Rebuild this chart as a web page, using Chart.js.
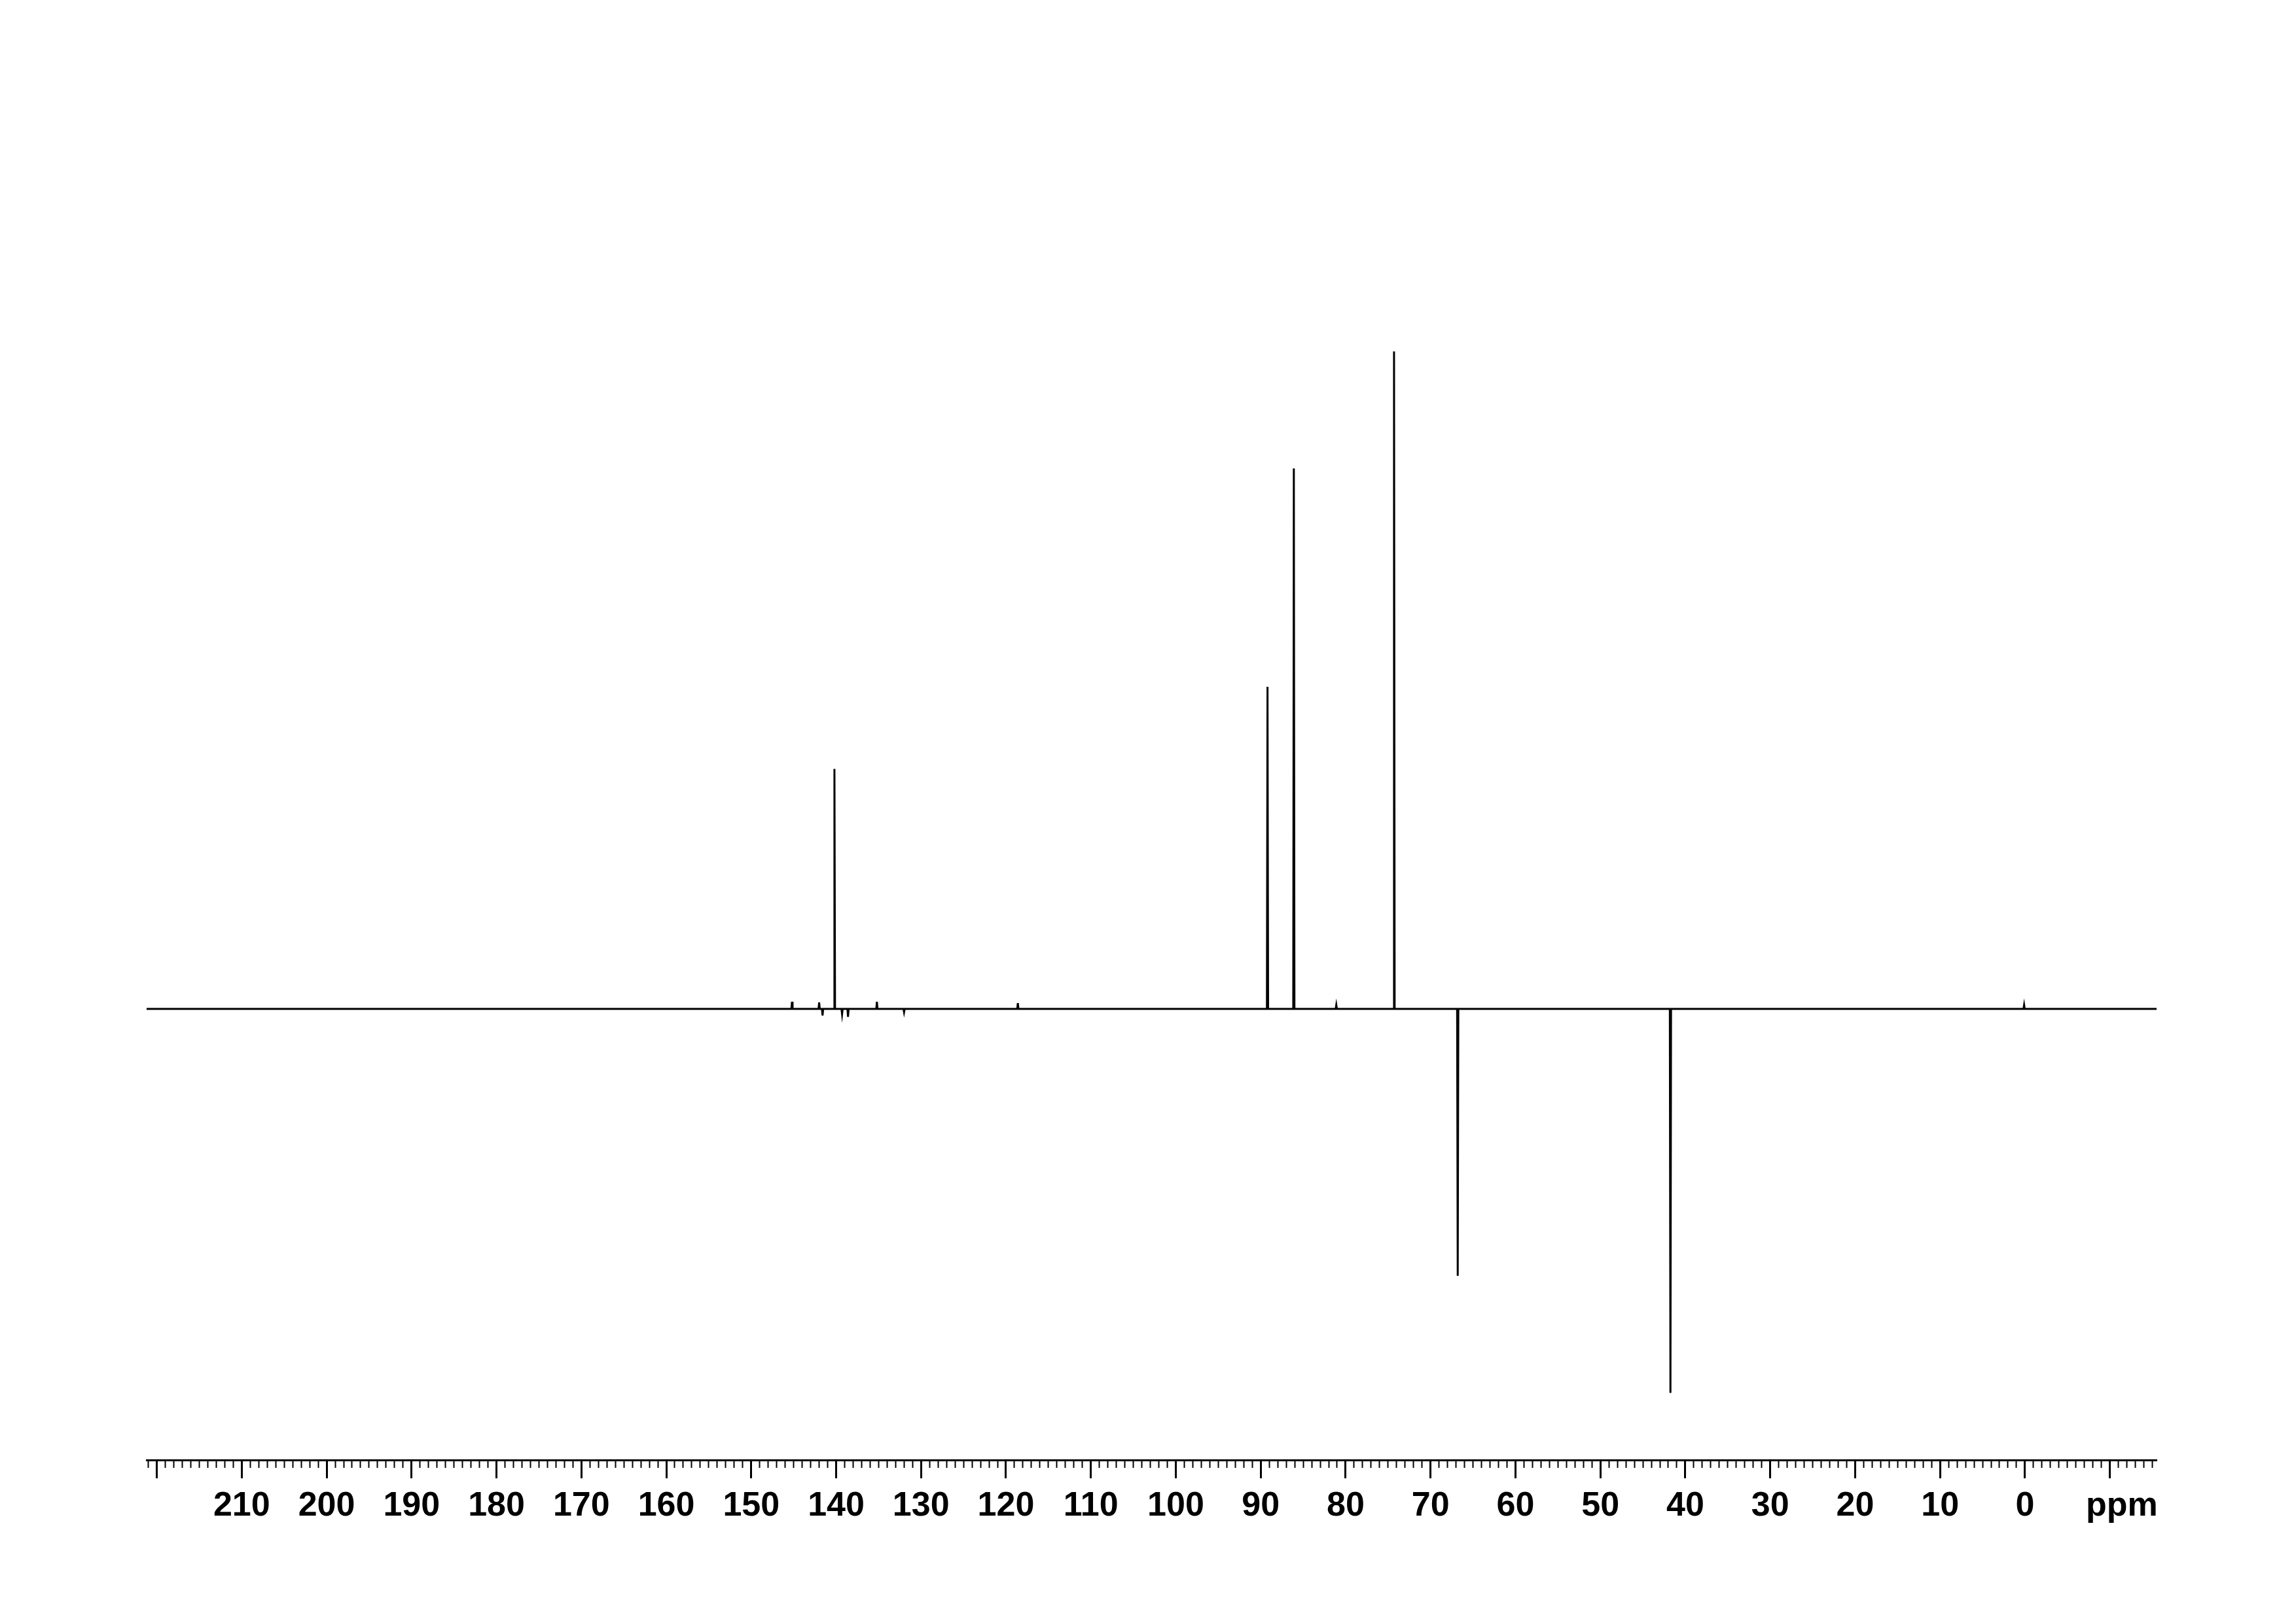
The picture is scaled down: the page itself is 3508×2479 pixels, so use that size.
<!DOCTYPE html>
<html>
<head>
<meta charset="utf-8">
<script src="https://cdn.jsdelivr.net/npm/chart.js@4/dist/chart.umd.min.js"></script>
<style>
  html, body { margin: 0; padding: 0; background: #ffffff; }
  #c { display: block; }
</style>
</head>
<body>
<canvas id="c" width="3508" height="2479"></canvas>
<script>
// ---- data ----
const ppmRange = [-15.5, 221.2];                 // visible chemical-shift window
const peakPpm = [145.2, 142.0, 141.6, 140.2, 139.3, 138.6, 135.2, 132.0, 118.6,
                 89.2, 86.1, 81.1, 74.3, 66.8, 41.75, 0.1];
const peakIntensity = [1.1, 1.0, -1.0, 36.5, -0.8, -1.2, 1.1, -0.5, 0.9,
                       49.0, 82.2, 0.6, 100, -40.6, -58.4, 0.6];
const intensityRange = [-68.6, 143.5];
const majorTickLabels = [210, 200, 190, 180, 170, 160, 150, 140, 130, 120, 110, 100,
                         90, 80, 70, 60, 50, 40, 30, 20, 10, 0];
const majorTickMarks = [220, 210, 200, 190, 180, 170, 160, 150, 140, 130, 120, 110, 100,
                        90, 80, 70, 60, 50, 40, 30, 20, 10, 0, -10];
const unitLabel = 'ppm';
const unitLabelPpm = -11.4;

// build the stick spectrum from the peak lists
const halfWidth = 0.07;
const spectrum = [{ x: ppmRange[1], y: 0 }];
peakPpm.forEach((p, i) => {
  spectrum.push({ x: p + halfWidth, y: 0 });
  spectrum.push({ x: p, y: peakIntensity[i] });
  spectrum.push({ x: p - halfWidth, y: 0 });
});
spectrum.push({ x: ppmRange[0], y: 0 });

const isMajor = v => majorTickMarks.includes(v);
const isUnit = v => Math.abs(v - unitLabelPpm) < 1e-6;

const whiteBg = {
  id: 'whiteBg',
  beforeDraw(chart) {
    const ctx = chart.ctx;
    ctx.save();
    ctx.fillStyle = '#ffffff';
    ctx.fillRect(0, 0, chart.width, chart.height);
    ctx.restore();
  }
};

new Chart(document.getElementById('c'), {
  type: 'scatter',
  data: {
    datasets: [{
      data: spectrum,
      showLine: true,
      borderColor: '#000000',
      borderWidth: 3,
      pointRadius: 0,
      pointHoverRadius: 0,
      tension: 0,
      fill: false
    }]
  },
  plugins: [whiteBg],
  options: {
    responsive: false,
    devicePixelRatio: 1,
    animation: false,
    events: [],
    layout: { padding: { left: 224, right: 213, top: 100, bottom: 0 } },
    plugins: {
      legend: { display: false },
      tooltip: { enabled: false },
      title: { display: false }
    },
    scales: {
      x: {
        type: 'linear',
        position: 'bottom',
        reverse: true,
        min: ppmRange[0],
        max: ppmRange[1],
        afterFit(scale) { scale.height = 249; },
        afterBuildTicks(scale) {
          const t = [];
          for (let v = Math.ceil(ppmRange[0]); v <= Math.floor(ppmRange[1]); v++) {
            if (v > unitLabelPpm && (v - 1) < unitLabelPpm) t.push({ value: unitLabelPpm });
            t.push({ value: v });
          }
          scale.ticks = t;
        },
        border: { display: true, color: '#000000', width: 3 },
        grid: {
          drawOnChartArea: false,
          drawTicks: true,
          tickLength: 28,
          tickWidth: ctx => (ctx.tick && isMajor(ctx.tick.value)) ? 3 : 2,
          tickColor: ctx => (ctx.tick && isUnit(ctx.tick.value)) ? 'rgba(0,0,0,0)' : '#000000',
          tickBorderDash: ctx => (ctx.tick && isMajor(ctx.tick.value)) ? [] : [10, 200]
        },
        ticks: {
          autoSkip: false,
          maxRotation: 0,
          minRotation: 0,
          padding: 11,
          color: '#000000',
          font: { family: 'Liberation Sans', size: 52, weight: 'bold' },
          callback(value) {
            if (isUnit(value)) return unitLabel;
            return majorTickLabels.includes(value) ? String(value) : '';
          }
        }
      },
      y: {
        type: 'linear',
        display: false,
        min: intensityRange[0],
        max: intensityRange[1]
      }
    }
  }
});
</script>
</body>
</html>
